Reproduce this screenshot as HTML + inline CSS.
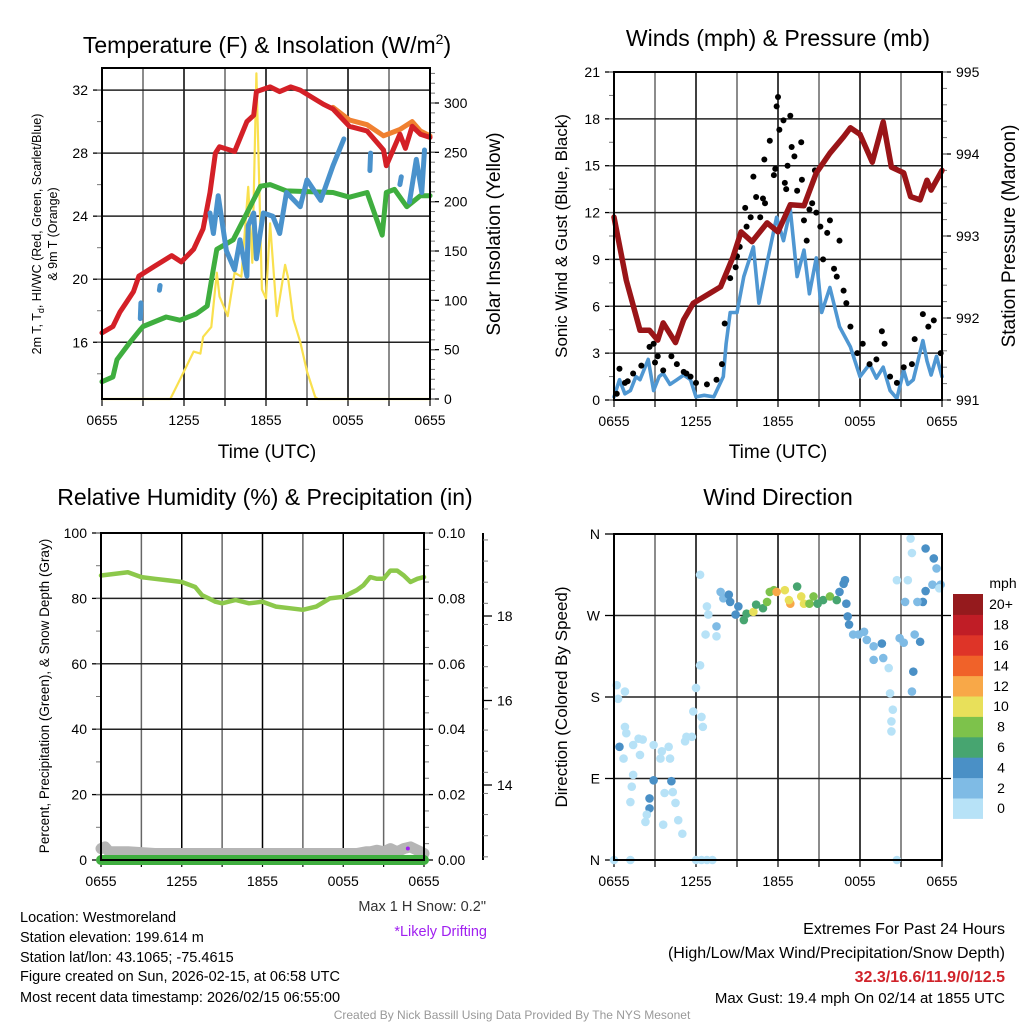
<!DOCTYPE html>
<html><head><meta charset="utf-8"><style>
html,body{margin:0;padding:0;background:#fff}
svg{display:block;font-family:"Liberation Sans",sans-serif}
</style></head><body>
<svg id="c" width="1024" height="1024" viewBox="0 0 1024 1024" xmlns="http://www.w3.org/2000/svg">
<g id="g"></g>
<text x="267" y="53" font-size="23" text-anchor="middle">Temperature (F) &amp; Insolation (W/m<tspan font-size="14" dy="-9">2</tspan><tspan dy="9">)</tspan></text>
<text x="778" y="46" font-size="23" text-anchor="middle">Winds (mph) &amp; Pressure (mb)</text>
<text x="265" y="505" font-size="23" text-anchor="middle">Relative Humidity (%) &amp; Precipitation (in)</text>
<text x="778" y="505" font-size="23" text-anchor="middle">Wind Direction</text>
<text x="267" y="458" font-size="19" text-anchor="middle">Time (UTC)</text>
<text x="778" y="458" font-size="19" text-anchor="middle">Time (UTC)</text>
<text transform="translate(41,234) rotate(-90)" font-size="12.5" text-anchor="middle">2m T, T<tspan font-size="9" dy="3">d</tspan><tspan dy="-3">, HI/WC (Red, Green, Scarlet/Blue)</tspan></text>
<text transform="translate(57,234) rotate(-90)" font-size="12.5" text-anchor="middle">&amp; 9m T (Orange)</text>
<text transform="translate(500,234) rotate(-90)" font-size="19" text-anchor="middle">Solar Insolation (Yellow)</text>
<text transform="translate(567,236) rotate(-90)" font-size="17" text-anchor="middle">Sonic Wind &amp; Gust (Blue, Black)</text>
<text transform="translate(1015,236) rotate(-90)" font-size="19" text-anchor="middle">Station Pressure (Maroon)</text>
<text transform="translate(49,696) rotate(-90)" font-size="13.5" text-anchor="middle">Percent, Precipitation (Green), &amp; Snow Depth (Gray)</text>
<text transform="translate(567,697) rotate(-90)" font-size="17" text-anchor="middle">Direction (Colored By Speed)</text>
<text x="1003" y="588" font-size="14" text-anchor="middle">mph</text>
<g font-size="14.5">
<text x="20" y="922">Location: Westmoreland</text>
<text x="20" y="942">Station elevation: 199.614 m</text>
<text x="20" y="962">Station lat/lon: 43.1065; -75.4615</text>
<text x="20" y="981">Figure created on Sun, 2026-02-15, at 06:58 UTC</text>
<text x="20" y="1002">Most recent data timestamp: 2026/02/15 06:55:00</text>
</g>
<text x="486" y="911" font-size="14.5" fill="#333" text-anchor="end">Max 1 H Snow: 0.2"</text>
<text x="487" y="936" font-size="14.5" fill="#a020f0" text-anchor="end">*Likely Drifting</text>
<g font-size="16" text-anchor="end">
<text x="1005" y="934">Extremes For Past 24 Hours</text>
<text x="1005" y="958">(High/Low/Max Wind/Precipitation/Snow Depth)</text>
<text x="1005" y="982" fill="#d0232a" font-weight="bold">32.3/16.6/11.9/0/12.5</text>
<text x="1005" y="1003" font-size="15">Max Gust: 19.4 mph On 02/14 at 1855 UTC</text>
</g>
<text x="512" y="1019" font-size="12" fill="#999" text-anchor="middle">Created By Nick Bassill Using Data Provided By The NYS Mesonet</text>
</svg>
<script>
// ---- data (hours since 0655 UTC) ----
const xTickLabels=["0655","1255","1855","0055","0655"];
const redT=[0,0.8,1.3,2.3,2.7,3.8,5.1,5.8,6.7,7.4,7.9,8.3,8.6,9.7,10.6,11.1,11.3,12.3,13,13.8,14.5,16.2,16.9,18.1,19.4,20.6,20.8,21.8,22.2,22.7,23.3,24];
const redV=[16.6,17.0,17.9,19.2,20.2,20.8,21.5,21.1,21.9,23.2,25.5,28.0,28.4,28.1,30.0,30.4,31.9,32.2,31.9,32.2,32.0,31.1,30.8,29.7,29.4,28.2,27.2,29.2,28.3,29.7,29.2,29.0];
const orangeT=[16.9,18.1,19.4,20.6,21.8,22.7,23.3,24];
const orangeV=[30.9,30.1,29.8,29.1,29.5,30.0,29.4,29.1];
const greenT=[0,0.8,1.1,2.05,2.8,3,4.7,5.7,6.9,7.7,8.1,8.4,9.6,10.6,11.6,12.3,13.5,16.9,18.1,19.4,20.5,20.8,21.4,22.3,23.3,24];
const greenV=[13.5,13.8,14.9,16.0,16.8,17.0,17.6,17.4,17.8,18.3,20.4,21.9,22.5,24.2,25.9,26.0,25.6,25.5,25.2,25.5,22.8,25.5,25.7,24.6,25.3,25.3];
const blueT=[2.8,2.85,null,4.2,4.25,null,7.9,8.15,8.5,9.1,9.7,10.1,10.6,10.7,11.1,11.3,11.8,12.5,13,13.5,14.5,15,16,16.9,17.7,null,19.6,19.65,null,21.8,21.9,null,22.5,23,23.4,23.6];
const blueV=[17.5,18.5,null,19.3,19.6,null,24.2,22.9,25.3,21.8,20.6,22.5,20.2,23.4,24.2,21.3,24.2,24.0,22.9,25.5,24.6,26.3,25.0,27.2,28.9,null,26.9,28.0,null,26.0,26.5,null,24.9,27.6,25.5,28.2];
const solarT=[0,5,6,6.7,7.2,7.4,8,8.4,8.6,9.2,9.7,10.2,10.7,11,11.3,11.7,12,12.3,12.8,13.4,13.6,14,14.5,15,15.6,15.8,24];
const solarV=[0,0,28,48,46,63,73,128,104,84,128,124,215,138,330,111,102,178,84,136,124,81,58,28,2,0,0];
const presT=[0,0.9,1.9,2.6,3.2,3.6,4.5,5.1,5.8,7,7.8,8.7,9.3,10.1,11.2,12,12.9,13.9,14.8,15.8,16.8,17.3,18,18.9,19.7,20.3,21.2,21.7,22.4,22.9,23.2,24];
const presV=[993.23,992.46,991.85,991.85,991.73,991.94,991.7,991.98,992.18,992.3,992.38,992.74,993.05,992.93,993.16,993.05,993.38,993.37,993.77,994.01,994.21,994.32,994.24,993.9,994.39,993.84,993.77,993.48,993.44,993.68,993.56,993.8];
const windT=[0,0.4,0.8,1.2,1.6,1.9,2.5,2.9,3.3,3.6,4.1,4.6,5.1,5.6,6,6.6,7.3,8,8.2,8.5,9,9.5,10.2,10.6,11.2,11.9,12.4,12.9,13.4,13.9,14.3,14.8,15.2,15.8,16.5,17.3,18,18.7,19.2,19.7,20.2,20.7,21.2,21.5,21.9,22.6,22.9,23.2,23.6,24];
const windV=[0.2,1.3,0.4,0.6,1.5,1.3,2.6,0.6,1.5,1.7,1.0,1.3,1.6,1.3,0.2,0.3,0.2,1.5,3.6,5.6,5.6,7.9,9.8,6.2,8.8,11.7,10.2,12.2,7.9,9.6,6.8,9.1,5.6,7.2,4.7,3.4,1.5,2.3,1.4,2.1,0.6,0.1,1.9,1.0,1.3,3.8,2.5,1.6,2.8,1.5];
const gustT=[0.4,0.2,0.8,1.4,2,2.6,2.9,3.2,3.6,4.2,4.6,5.1,5.6,6,6.8,7.5,7.9,8.1,8.5,8.9,9.2,9.6,9.7,10,10.2,10.4,10.7,11,11.05,11.4,11.7,11.8,11.9,12,12.1,12.4,12.5,12.6,12.9,13,13.2,13.4,13.7,13.75,13.9,14.1,14.5,14.7,14.8,15.1,15.3,15.6,15.8,16.1,16.3,16.5,16.8,17,17.3,17.8,18.2,18.7,19.2,19.6,19.8,20.2,20.7,21.2,21.8,22,22.6,23,23.4,23.9,1.0,3.0,5.3,9.0,10.9,12.7,14.3];
const gustV=[2.0,0.4,1.1,1.7,2.2,3.4,3.6,2.8,1.9,2.8,2.3,1.8,1.5,1.1,1.0,1.3,2.3,4.9,7.8,8.5,9.8,12.3,11.1,11.7,14.3,13.0,11.7,15.4,12.6,16.6,14.4,14.8,18.8,19.4,17.3,17.9,13.9,13.5,18.2,16.2,15.6,13.4,16.5,14.1,11.5,10.2,12.6,14.7,12.0,11.1,9.0,10.7,11.5,8.4,7.9,10.2,7.0,6.2,4.7,3.0,3.6,2.3,2.6,4.4,3.6,1.5,1.1,2.1,2.3,3.9,5.5,4.7,5.1,3.0,1.2,2.4,1.7,9.2,12.9,15.0,12.2];
const rhT=[0,1,2,3,4,5,6,7,7.5,8,8.5,9,10,11,12,13,14,15,16,17,18,19,19.5,20,20.5,21,21.5,22,22.5,23,23.5,24];
const rhV=[87,87.5,88,86.5,86,85.5,85,83.5,81,80,79,78.5,79.5,78.5,79,77.5,77,76.5,77.5,80,80.5,82.5,84,86.5,86,86,88.5,88.5,87,85,86,86.5];
const snowT=[0,0.3,0.6,1,2,4,6,8,10,12,14,16,18,19,19.7,20,20.5,21,21.5,22,22.5,23,24];
const snowV=[3.5,4,2.5,2.5,2.5,2,2,2,2,2,2,2,2,2,2.5,2.5,3,2.5,3.5,2.5,3.5,4,2];
const dirT=[0.2,0.3,0.8,0.8,0.9,0.4,0.7,1.4,1.8,2.1,1.9,1.4,1.3,1.2,2.9,2.9,2.6,2.6,2.4,2.3,3.5,3.4,4,4.1,4.2,4.3,3.7,4.5,4.7,5,3.6,5.2,5.3,5.7,5.8,6.4,6.5,6,6.3,6.7,7.5,7.5,6.8,6.9,6.3,7.8,8,8.4,8.5,8.9,9.1,9.5,9.7,10.2,10.4,10.9,11.2,11.4,11.7,11.9,12.5,12.9,12.8,13.4,13.7,13.9,14.3,14.6,14.9,15.3,15.8,16.3,16.5,16.8,16.9,17,17.1,17.2,17.5,17.9,18.3,18.5,19,19,19.6,19.7,20.1,20.2,20.4,20.3,20.3,20.7,20.9,21.2,21.3,21.5,21.7,21.8,21.8,21.9,22,22.4,22.6,22.8,23.4,23.6,23.3,23.9,23.8,22.8,22.2,0,1.2,6.0,6.4,6.8,7.2,20.7];
const dirV=[193,178,186,147,140,125,112,127,134,133,116,94,81,64,127,88,68,57,50,42,120,112,125,112,87,75,74,63,44,29,39,131,136,136,164,158,147,190,215,249,247,258,280,271,315,296,289,293,285,271,280,265,272,274,282,278,285,296,298,296,298,283,287,302,291,283,283,291,283,287,291,287,296,305,309,283,269,260,249,249,252,243,236,221,239,223,212,184,166,153,142,309,245,240,285,309,355,339,186,208,249,241,285,344,333,322,304,304,300,297,285,0,0,0,0,0,0,0];
const dirS=[0.5,0.5,0.5,0.5,0.5,4,1,0.5,0.5,0.5,0.5,0.5,0.5,0.5,0.5,4.5,4,4.5,0.5,0.5,0.5,0.5,0.5,0.5,4.5,0.5,0.5,0.5,0.5,0.5,0.5,1,0.5,0.5,0.5,0.5,0.5,0.5,0.5,0.5,1,2,0.5,0.5,0.5,2,3,4,4.5,4,4.5,6,7,10,6,7,8,8,8,12,10,12,10,6,10,10,9,8,7,6,8,6,4.5,4.5,4.5,4.5,4.5,4.5,3,3,3,3,2,2,4.5,3,1,1,1,1,1,1,2,2,3,1,1,1,2,4.5,3,4.5,4.5,4.5,4.5,3,3,2,1,4.5,2,0.5,0.5,0.5,0.5,0.5,0.5,0.5];
const cbLabels=["0","2","4","6","8","10","12","14","16","18","20+"];
const cbColors=["#b7e2f7","#7fbbe5","#4a90c6","#47a570","#7dc24b","#e8e05a","#f8a848","#f06229","#de3428","#c01d26","#951a1d"];

// ---- drawing ----
const NS="http://www.w3.org/2000/svg";
const G=document.getElementById('g');
function mk(tag,attrs,parent){const e=document.createElementNS(NS,tag);for(const k in attrs)e.setAttribute(k,attrs[k]);(parent||G).appendChild(e);return e;}
function lin(d0,d1,r0,r1){return v=>r0+(v-d0)/(d1-d0)*(r1-r0);}
function pathFrom(T,V,sx,sy){let d="",pen=false;for(let i=0;i<T.length;i++){if(T[i]===null||V[i]===null){pen=false;continue;}d+=(pen?"L":"M")+sx(T[i]).toFixed(1)+","+sy(V[i]).toFixed(1);pen=true;}return d;}
function frame(x0,x1,y0,y1,name){
  const g=mk('g',{});
  
  
  const sx=lin(0,24,x0,x1);
  for(let h=3;h<24;h+=3){mk('line',{x1:sx(h),x2:sx(h),y1:y0,y2:y1,stroke:(h%6?'#666':'#000'),'stroke-width':1.5},g);}
  for(let h=0;h<=24;h+=3){mk('line',{x1:sx(h),x2:sx(h),y1:y1,y2:y1+7,stroke:'#000','stroke-width':1.2},g);}
  xTickLabels.forEach((t,i)=>{const e=mk('text',{x:sx(i*6),y:y1+26,'font-size':14,'text-anchor':'middle'},g);e.textContent=t;
    
    });
  return sx;
}
function box(x0,x1,y0,y1,name){const r=mk('rect',{x:x0,y:y0,width:x1-x0,height:y1-y0,fill:'none',stroke:'#000','stroke-width':2});
  
  }
function yAxis(x,y0,y1,vals,labels,sy,side,grid,xx0,xx1,minorStep,vmin,vmax){
  const dir=side==='left'?-1:1;
  vals.forEach((v,i)=>{const y=sy(v);
    if(grid&&y>y0+2&&y<y1-2)mk('line',{x1:xx0,x2:xx1,y1:y,y2:y,stroke:'#222','stroke-width':1.5});
    mk('line',{x1:x,x2:x+dir*9,y1:y,y2:y,stroke:'#000','stroke-width':1.3});
    const t=mk('text',{x:x+dir*14,y:y+5,'font-size':14,'text-anchor':side==='left'?'end':'start'});t.textContent=labels[i];
    
    });
  if(minorStep){for(let v=vmin;v<=vmax+1e-9;v+=minorStep){const y=sy(v);if(y<y0-1||y>y1+1)continue;mk('line',{x1:x,x2:x+dir*5,y1:y,y2:y,stroke:'#777','stroke-width':1});}}
}
function line(T,V,sx,sy,color,w,name){const p=mk('path',{d:pathFrom(T,V,sx,sy),fill:'none',stroke:color,'stroke-width':w,'stroke-linejoin':'round','stroke-linecap':'round'});
  
  return p;}

// Panel 1
(function(){
  const x0=102,x1=430,y0=68,y1=399;
  const sx=frame(x0,x1,y0,y1,'temp');
  const sy=lin(12.4,33.4,y1,y0);
  const sr=lin(0,300,y1,103);
  yAxis(x0,y0,y1,[16,20,24,28,32],["16","20","24","28","32"],sy,'left',true,x0,x1,2,14,32);
  yAxis(x1,y0,y1,[0,50,100,150,200,250,300],["0","50","100","150","200","250","300"],sr,'right',false,0,0,10,0,330);
  line(solarT,solarV,sx,sr,'#f9e04e',2.2,'solar-line');
  line(greenT,greenV,sx,sy,'#3fae3f',5,'dewpoint-line');
  line(orangeT,orangeV,sx,sy,'#f08030',5,'temp-9m-line');
  line(redT,redV,sx,sy,'#d42027',5,'temp-2m-line');
  line(blueT,blueV,sx,sy,'#4a92cc',5,'windchill-line');
  box(x0,x1,y0,y1,'temp');
})();
// Panel 2
(function(){
  const x0=614,x1=942,y0=72,y1=400;
  const sx=frame(x0,x1,y0,y1,'wind');
  const sy=lin(0,21,y1,y0);
  const sp=lin(991,995,y1,y0);
  yAxis(x0,y0,y1,[0,3,6,9,12,15,18,21],["0","3","6","9","12","15","18","21"],sy,'left',true,x0,x1,1.5,0,21);
  yAxis(x1,y0,y1,[991,992,993,994,995],["991","992","993","994","995"],sp,'right',false,0,0,0.2,991,995);
  line(windT,windV,sx,sy,'#4f97d2',3.6,'wind-speed-line');
  gustT.forEach((t,i)=>{const c=mk('circle',{cx:sx(t),cy:sy(gustV[i]),r:3,fill:'#000'});
    
    });
  line(presT,presV,sx,sp,'#9a1518',5.5,'pressure-line');
  box(x0,x1,y0,y1,'wind');
})();
// Panel 3
(function(){
  const x0=101,x1=424,y0=533,y1=860;
  const sx=frame(x0,x1,y0,y1,'rh');
  const sy=lin(0,100,y1,y0);
  yAxis(x0,y0,y1,[0,20,40,60,80,100],["0","20","40","60","80","100"],sy,'left',true,x0,x1,10,0,100);
  yAxis(x1,y0,y1,[0,0.02,0.04,0.06,0.08,0.1],["0.00","0.02","0.04","0.06","0.08","0.10"],lin(0,0.1,y1,y0),'right',false,0,0,0.005,0,0.1);
  const ss=lin(14,18,785,616);
  mk('line',{x1:483,x2:483,y1:y0,y2:y1,stroke:'#000','stroke-width':2});
  yAxis(483,y0,y1,[14,16,18],["14","16","18"],ss,'right',false,0,0,0.5,12.3,19.8);
  line(rhT,rhV,sx,sy,'#8cc84b',4.5,'rh-line');
  line(snowT,snowV,sx,sy,'#b5b5b5',11,'snow-depth-line');
  line([0,24],[0,0],sx,sy,'#3fae3f',10,'precip-line');
  const d=mk('circle',{cx:sx(22.8),cy:sy(3.5),r:2,fill:'#a020f0'});
  
  
  box(x0,x1,y0,y1,'rh');
})();
// Panel 4
(function(){
  const x0=614,x1=942,y0=534,y1=860;
  const sx=frame(x0,x1,y0,y1,'direction');
  const sy=lin(0,360,y1,y0);
  yAxis(x0,y0,y1,[0,90,180,270,360],["N","E","S","W","N"],sy,'left',true,x0,x1,0,0,0);
  [90,180,270].forEach(v=>mk('line',{x1:x1,x2:x1+9,y1:sy(v),y2:sy(v),stroke:'#000','stroke-width':1.3}));
  dirT.forEach((t,i)=>{const k=Math.min(10,Math.floor(dirS[i]/2));const c=mk('circle',{cx:sx(t),cy:sy(dirV[i]),r:4.3,fill:cbColors[k]});
    
    });
  box(x0,x1,y0,y1,'direction');
  const cy0=594,ch=20.4;
  cbColors.forEach((col,i)=>{const y=cy0+(10-i)*ch;const r=mk('rect',{x:953,y:y,width:30,height:ch+0.5,fill:col});
    
    
    const t=mk('text',{x:1001,y:y+ch/2+5,'font-size':14,'text-anchor':'middle'});t.textContent=cbLabels[i];
    
    });
})();
</script>
</body></html>
